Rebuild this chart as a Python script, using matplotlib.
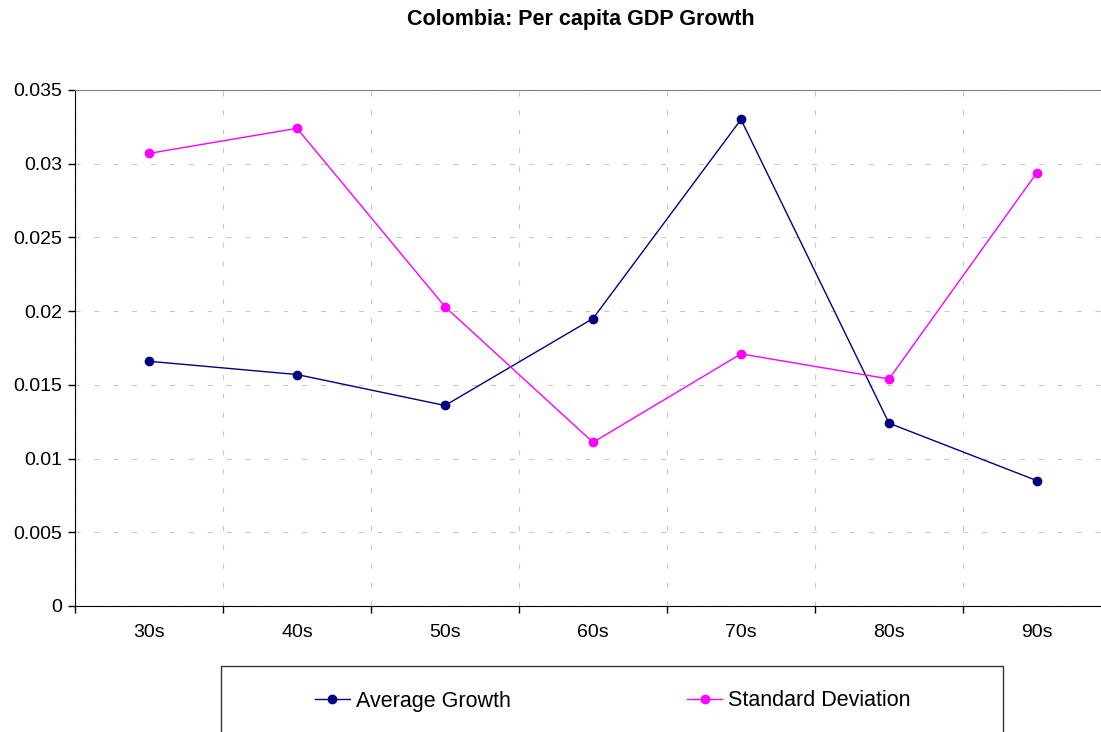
import matplotlib
matplotlib.use("Agg")
import matplotlib.pyplot as plt
from matplotlib.patches import Rectangle
import numpy as np

plt.rcParams['font.family'] = ['Liberation Sans', 'DejaVu Sans']

decades = ['30s', '40s', '50s', '60s', '70s', '80s', '90s']
avg_growth = [0.0166, 0.0157, 0.0136, 0.0195, 0.0330, 0.0124, 0.0085]
std_dev = [0.0307, 0.0324, 0.0203, 0.0111, 0.0171, 0.0154, 0.0294]
y_ticks = [0, 0.005, 0.01, 0.015, 0.02, 0.025, 0.03, 0.035]
y_labels = ['0', '0.005', '0.01', '0.015', '0.02', '0.025', '0.03', '0.035']

W, H = 1101, 732
fig = plt.figure(figsize=(W / 100, H / 100), dpi=100)
# plot area runs a bit past the right edge, like the original
ax = fig.add_axes([75 / W, (H - 606) / H, 1036 / W, 516 / H])

x = np.arange(len(decades))
ax.plot(x, avg_growth, color='#000080', marker='o', markersize=6, lw=1, label='Average Growth')
ax.plot(x, std_dev, color='#FF00FF', marker='o', markersize=6, lw=1, label='Standard Deviation')

ax.set_xlim(-0.5, 6.5)
ax.set_ylim(0, 0.035)
ax.set_yticks(y_ticks)
ax.set_yticklabels(y_labels)
ax.set_xticks(x)
ax.set_xticklabels(decades)
ax.set_xticks(np.arange(-0.5, 7, 1), minor=True)
ax.tick_params(axis='x', which='major', length=0, pad=13, labelsize=14)
ax.tick_params(axis='x', which='minor', length=5, width=1, direction='out')
ax.tick_params(axis='y', length=5, width=1, pad=4, labelsize=14)

grid_style = dict(color='#c8c8c8', linestyle=(0, (4.5, 12.5)), lw=0.8)
ax.grid(axis='y', which='major', **grid_style)
ax.grid(axis='x', which='minor', **grid_style)
ax.set_axisbelow(True)

ax.spines['right'].set_visible(False)
ax.spines['top'].set_color('#808080')
ax.spines['left'].set_color('#000000')
ax.spines['bottom'].set_color('#000000')

fig.text(581 / W, 1 - 20 / H, 'Colombia: Per capita GDP Growth', ha='center', va='center',
         fontsize=15.5, fontweight='bold')

# legend box, cut off at the bottom like the original
box = Rectangle((221 / W, -0.05), (1003 - 221) / W, (H - 666) / H + 0.05,
                transform=fig.transFigure, fill=False, edgecolor='#333333', lw=1)
fig.patches.append(box)
fig.legend(loc='center', bbox_to_anchor=(613 / W, (H - 701) / H), ncol=2, frameon=False,
           fontsize=15.5, handlelength=1.6, handletextpad=0.3, columnspacing=8.2)

fig.savefig('out.png', dpi=100)
